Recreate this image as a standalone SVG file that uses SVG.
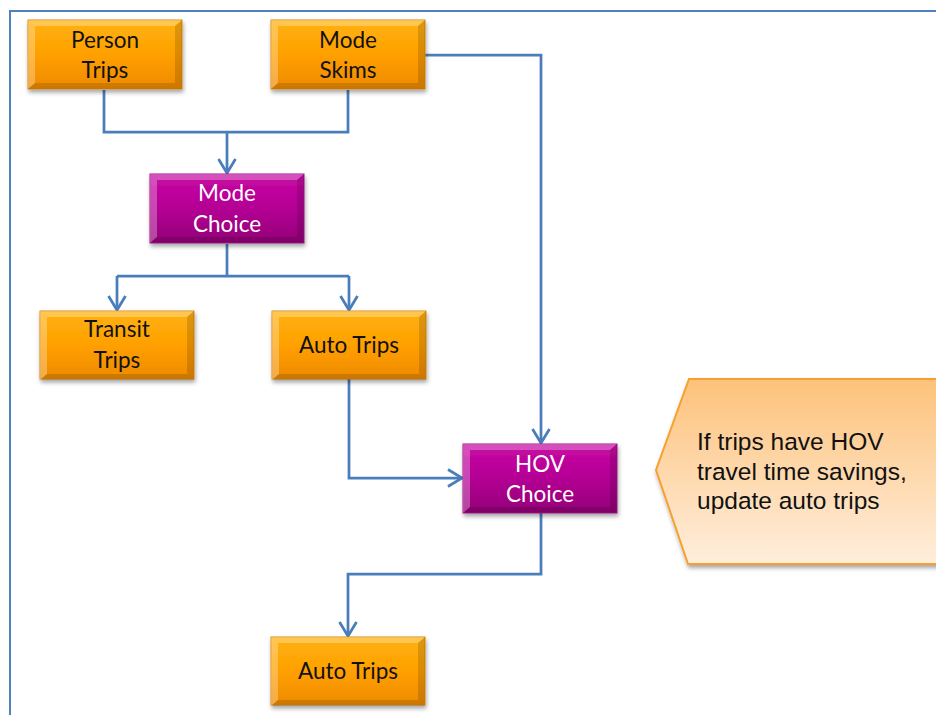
<svg xmlns="http://www.w3.org/2000/svg" width="936" height="715" viewBox="0 0 936 715">
  <style>
    .lbl { font-family: Lato, "Open Sans", "Liberation Sans", sans-serif; font-size: 22.5px; text-anchor: middle; }
    .dark { fill: #111; }
    .light { fill: #fff; }
    .orange { fill: url(#gOrange); stroke: #D98A10; stroke-width: 1; }
    .purple { fill: url(#gPurple); stroke: #A0108A; stroke-width: 1; }
    .hi { fill: #fff; opacity: 0.28; }
    .lo { fill: #000; opacity: 0.14; }
    .wire { fill: none; stroke: #4A7EBB; stroke-width: 2.75; }
    .note { font-family: "Liberation Sans", Arial, sans-serif; font-size: 24.5px; fill: #111; }
  </style>
  <defs>
    <linearGradient id="gOrange" x1="0" y1="0" x2="0" y2="1">
      <stop offset="0" stop-color="#FFB210"/>
      <stop offset="0.5" stop-color="#FFA000"/>
      <stop offset="1" stop-color="#EE8A00"/>
    </linearGradient>
    <linearGradient id="gPurple" x1="0" y1="0" x2="0" y2="1">
      <stop offset="0" stop-color="#C80AA4"/>
      <stop offset="0.5" stop-color="#B40094"/>
      <stop offset="1" stop-color="#930078"/>
    </linearGradient>
    <linearGradient id="gNote" x1="0" y1="0" x2="0" y2="1">
      <stop offset="0" stop-color="#FDC27A"/>
      <stop offset="1" stop-color="#FFEEDD"/>
    </linearGradient>
    <filter id="shadow" x="-10%" y="-10%" width="125%" height="135%">
      <feDropShadow dx="1" dy="3" stdDeviation="2" flood-color="#000" flood-opacity="0.35"/>
    </filter>
    <marker id="arrow" markerUnits="userSpaceOnUse" markerWidth="26" markerHeight="26" viewBox="-20 -13 26 26" refX="0" refY="0" orient="auto">
      <path d="M-14,-8.5 L0,0 L-14,8.5" fill="none" stroke="#4A7EBB" stroke-width="2.75" stroke-linejoin="miter"/>
    </marker>
    <!-- bevelled box edges for a 154 x 69 box -->
    <g id="bevel">
      <polygon class="hi" points="0,0 154,0 147,6 7,6"/>
      <polygon class="hi" points="0,0 7,6 7,63 0,69" opacity="0.15"/>
      <polygon class="lo" points="0,69 7,63 147,63 154,69"/>
      <polygon class="lo" points="154,0 154,69 147,63 147,6" opacity="0.08"/>
    </g>
  </defs>

  <rect width="936" height="715" fill="#fff"/>

  <!-- outer frame -->
  <path d="M10,715 L10,11 L936,11" fill="none" stroke="#4F81BD" stroke-width="2"/>

  <!-- connectors -->
  <g id="connectors">
    <path class="wire" d="M104,90 V132 H348 V90"/>
    <path class="wire" d="M227,132 V173" marker-end="url(#arrow)"/>
    <path class="wire" d="M425,55 H541 V443" marker-end="url(#arrow)"/>
    <path class="wire" d="M227,244 V276"/>
    <path class="wire" d="M117,276 H349"/>
    <path class="wire" d="M117,276 V310" marker-end="url(#arrow)"/>
    <path class="wire" d="M349,276 V310" marker-end="url(#arrow)"/>
    <path class="wire" d="M349,379 V478 H462" marker-end="url(#arrow)"/>
    <path class="wire" d="M541,513 V574 H348 V636" marker-end="url(#arrow)"/>
  </g>

  <g id="person-trips" transform="translate(28,20)">
    <rect class="orange" width="154" height="69" filter="url(#shadow)"/>
    <use href="#bevel"/>
    <text class="lbl dark" x="77" y="28">Person</text>
    <text class="lbl dark" x="77" y="58">Trips</text>
  </g>

  <g id="mode-skims" transform="translate(271,20)">
    <rect class="orange" width="154" height="69" filter="url(#shadow)"/>
    <use href="#bevel"/>
    <text class="lbl dark" x="77" y="28">Mode</text>
    <text class="lbl dark" x="77" y="58">Skims</text>
  </g>

  <g id="mode-choice" transform="translate(150,174)">
    <rect class="purple" width="154" height="69" filter="url(#shadow)"/>
    <use href="#bevel"/>
    <text class="lbl light" x="77" y="27">Mode</text>
    <text class="lbl light" x="77" y="58">Choice</text>
  </g>

  <g id="transit-trips" transform="translate(40,311)">
    <rect class="orange" width="154" height="68" filter="url(#shadow)"/>
    <use href="#bevel"/>
    <text class="lbl dark" x="77" y="26">Transit</text>
    <text class="lbl dark" x="77" y="57">Trips</text>
  </g>

  <g id="auto-trips" transform="translate(272,311)">
    <rect class="orange" width="154" height="68" filter="url(#shadow)"/>
    <use href="#bevel"/>
    <text class="lbl dark" x="77" y="42">Auto Trips</text>
  </g>

  <g id="hov-choice" transform="translate(463,444)">
    <rect class="purple" width="154" height="69" filter="url(#shadow)"/>
    <use href="#bevel"/>
    <text class="lbl light" x="77" y="28">HOV</text>
    <text class="lbl light" x="77" y="58">Choice</text>
  </g>

  <g id="auto-trips-final" transform="translate(271,637)">
    <rect class="orange" width="154" height="68" filter="url(#shadow)"/>
    <use href="#bevel"/>
    <text class="lbl dark" x="77" y="42">Auto Trips</text>
  </g>

  <g id="hov-note">
    <polygon points="689,379 940,379 940,564 688,564 656,470" fill="url(#gNote)" stroke="#F7A030" stroke-width="2" filter="url(#shadow)"/>
    <text class="note" x="697" y="450">If trips have HOV</text>
    <text class="note" x="697" y="480">travel time savings,</text>
    <text class="note" x="697" y="509">update auto trips</text>
  </g>
</svg>
